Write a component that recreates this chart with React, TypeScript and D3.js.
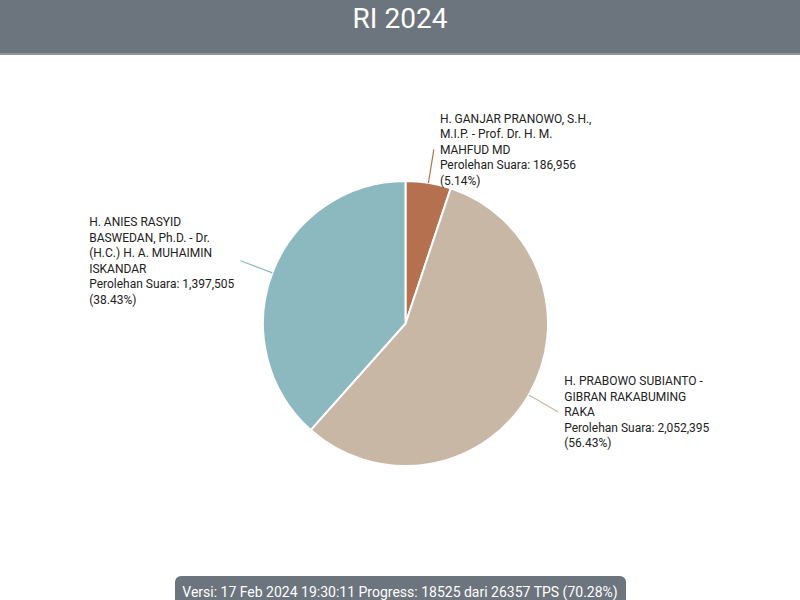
import React, { useEffect, useRef } from "react";
import * as d3 from "d3";

const title = "RI 2024";
const footer = "Versi: 17 Feb 2024 19:30:11 Progress: 18525 dari 26357 TPS (70.28%)";

const candidates = [
  ["H. GANJAR PRANOWO, S.H.,", "M.I.P. - Prof. Dr. H. M.", "MAHFUD MD"],
  ["H. PRABOWO SUBIANTO -", "GIBRAN RAKABUMING", "RAKA"],
  ["H. ANIES RASYID", "BASWEDAN, Ph.D. - Dr.", "(H.C.) H. A. MUHAIMIN", "ISKANDAR"],
];
const votes = [186956, 2052395, 1397505];
const percents = ["5.14%", "56.43%", "38.43%"];
const colors = ["#b5714f", "#c8b7a4", "#8cb9bf"];

const W = 800;
const H = 600;
const cx = 405.5;
const cy = 323.5;
const radius = 142.5;
const lineLen = 34;
const lh = 15.5;

const App = () => {
  const ref = useRef(null);

  useEffect(() => {
    const svg = d3.select(ref.current);
    svg.selectAll("*").remove();

    // header
    svg.append("rect").attr("x", 0).attr("y", 0).attr("width", W).attr("height", 55).attr("fill", "#6c747d");
    svg.append("rect").attr("x", 0).attr("y", 53).attr("width", W).attr("height", 2).attr("fill", "#8f979e");
    svg
      .append("text")
      .attr("x", W / 2)
      .attr("y", 18)
      .attr("dy", "0.35em")
      .attr("text-anchor", "middle")
      .attr("fill", "#fff")
      .attr("font-family", "Roboto")
      .attr("font-size", 28)
      .text(title);

    const data = votes.map((v, i) => ({ v, i }));
    const pie = d3.pie().value(d => d.v).sort(null);
    const arcs = pie(data);
    const arc = d3.arc().innerRadius(0).outerRadius(radius);

    const g = svg.append("g").attr("transform", `translate(${cx},${cy})`);
    g.selectAll("path.slice")
      .data(arcs)
      .enter()
      .append("path")
      .attr("class", "slice")
      .attr("d", arc)
      .attr("fill", d => colors[d.data.i])
      .attr("stroke", "#fff")
      .attr("stroke-width", 2);

    arcs.forEach(a => {
      const i = a.data.i;
      const mid = (a.startAngle + a.endAngle) / 2;
      const sx = Math.sin(mid);
      const sy = -Math.cos(mid);
      const x1 = sx * radius;
      const y1 = sy * radius;
      const x2 = sx * (radius + lineLen);
      const y2 = sy * (radius + lineLen);
      g.append("line")
        .attr("x1", x1)
        .attr("y1", y1)
        .attr("x2", x2)
        .attr("y2", y2)
        .attr("stroke", colors[i])
        .attr("stroke-width", 1.2);

      const lines = [
        ...candidates[i],
        `Perolehan Suara: ${d3.format(",")(votes[i])}`,
        `(${percents[i]})`,
      ];
      const t = g
        .append("text")
        .attr("font-family", "Roboto")
        .attr("font-size", 12)
        .attr("fill", "#222");
      const top = y2 - ((lines.length - 1) * lh) / 2;
      lines.forEach((l, k) => {
        t.append("tspan").attr("x", 0).attr("y", top + k * lh).attr("dy", "0.35em").text(l);
      });
      const w = t.node().getBBox().width;
      const tx = sx >= 0 ? x2 + 6 : x2 - 6 - w;
      t.attr("transform", `translate(${tx},0)`);
    });

    // footer
    svg
      .append("rect")
      .attr("x", 175)
      .attr("y", 576)
      .attr("width", 451)
      .attr("height", 40)
      .attr("rx", 6)
      .attr("fill", "#6c747d");
    svg
      .append("text")
      .attr("x", 400)
      .attr("y", 592)
      .attr("dy", "0.35em")
      .attr("text-anchor", "middle")
      .attr("fill", "#fff")
      .attr("font-family", "Roboto")
      .attr("font-size", 14)
      .text(footer);
  }, []);

  return (
    <div style={{ position: "absolute", left: 0, top: 0, width: W, height: H, background: "#fff" }}>
      <svg ref={ref} width={W} height={H} />
    </div>
  );
};

export default App;
